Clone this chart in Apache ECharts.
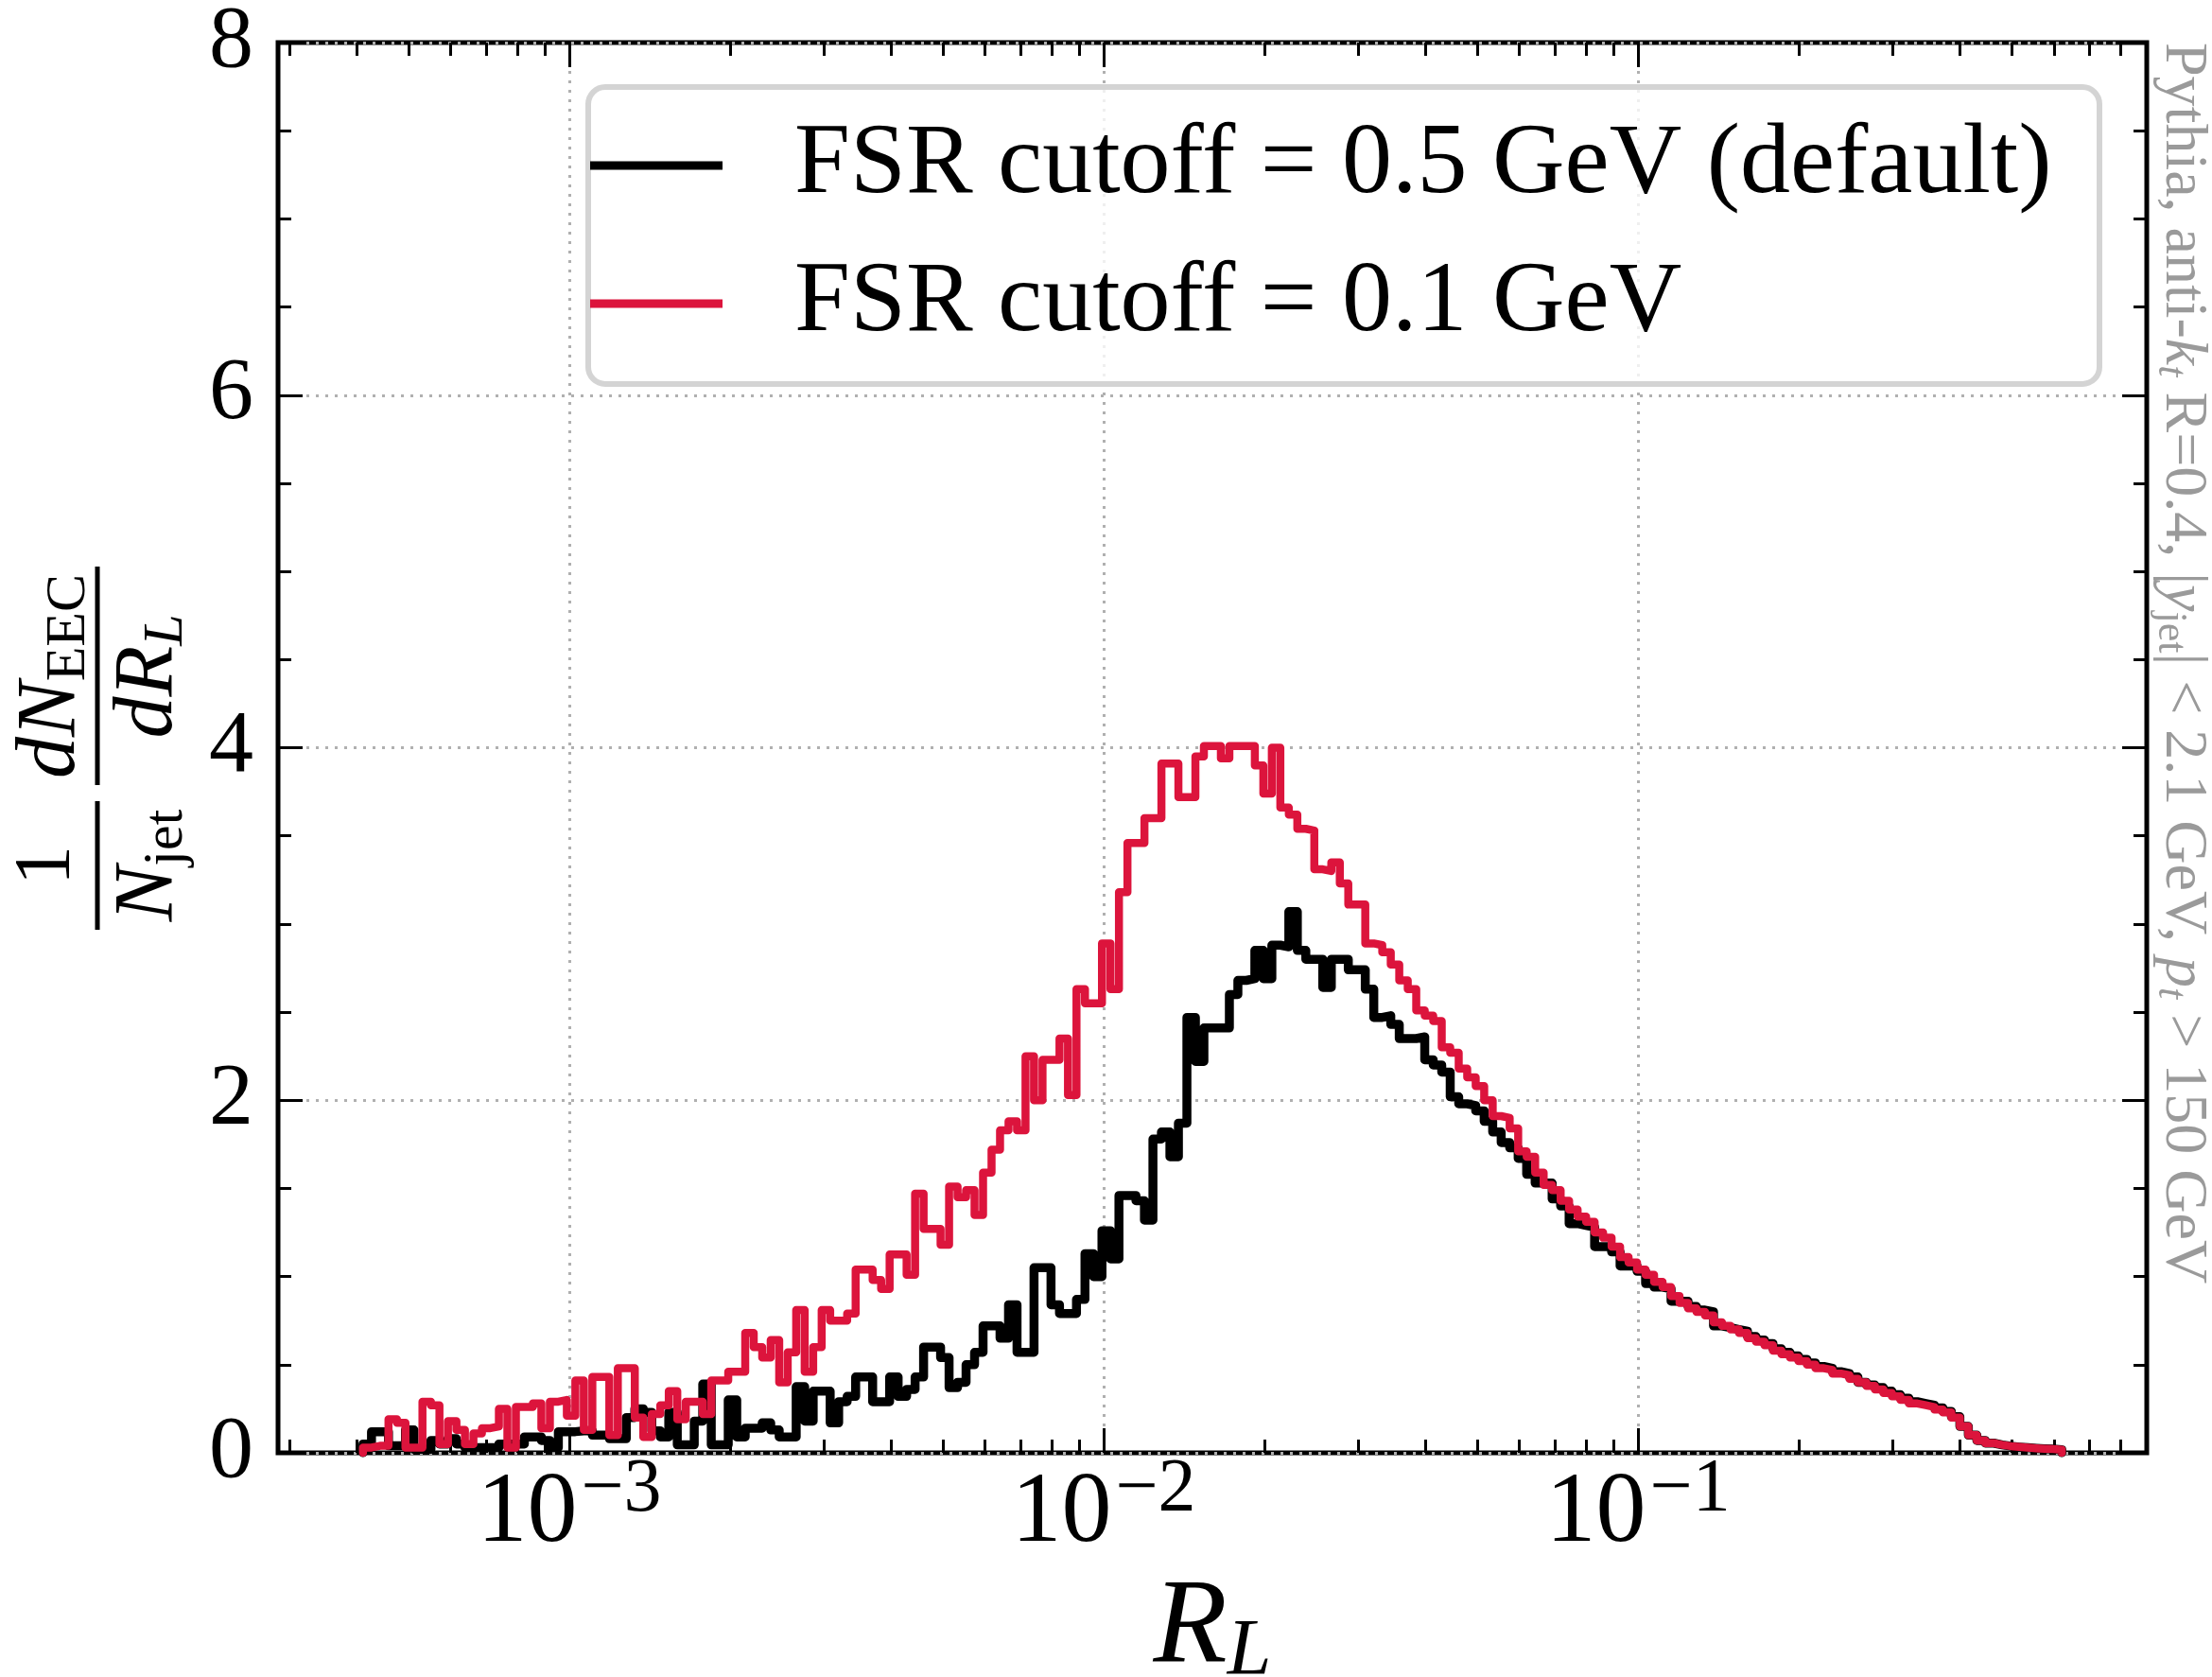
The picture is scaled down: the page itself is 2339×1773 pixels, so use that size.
<!DOCTYPE html>
<html><head><meta charset="utf-8">
<script src="https://cdn.jsdelivr.net/npm/echarts@6/dist/echarts.min.js"></script>
<style>html,body{margin:0;padding:0;background:#fff}#c{width:2339px;height:1773px}</style>
</head><body><div id="c"></div>
<script>
// ---------------- data ----------------
const seriesNames = ['FSR cutoff = 0.5 GeV (default)', 'FSR cutoff = 0.1 GeV'];
// histogram binning: log10 of first and last bin edge, 200 log-spaced bins
const binLog10Range = [-3.386, -0.207];
// x-axis range (log10)
const xLog10Range = [-3.545, -0.048];
const xMajorTicks = [1e-3, 1e-2, 1e-1];
const xMinorTicks = [3e-4,4e-4,5e-4,6e-4,7e-4,8e-4,9e-4,
  2e-3,3e-3,4e-3,5e-3,6e-3,7e-3,8e-3,9e-3,
  2e-2,3e-2,4e-2,5e-2,6e-2,7e-2,8e-2,9e-2,
  2e-1,3e-1,4e-1,5e-1,6e-1,7e-1,8e-1];
const yTicks = [0, 2, 4, 6, 8];

const fsr05 = [
  0.05,0.12,0.12,0.04,0.04,0.13,0.02,0.02,0.07,0.05,0.08,0.05,0.03,0.03,0.03,0.03,0.05,0.05,0.05,0.09,
  0.09,0.07,0.03,0.12,0.12,0.125,0.125,0.10,0.10,0.08,0.08,0.20,0.25,0.23,0.125,
  0.09,0.23,0.045,0.045,0.18,0.39,0.045,0.045,0.30,0.09,0.14,0.14,0.17,0.13,0.09,0.09,0.375,0.18,0.35,0.35,
  0.17,0.29,0.32,0.43,0.43,0.29,0.29,0.43,0.32,0.36,0.43,0.60,0.60,0.54,0.37,
  0.40,0.50,0.57,0.72,0.72,0.65,0.84,0.57,0.57,1.05,1.05,0.84,0.79,0.79,0.87,1.13,1.0,1.26,1.10,1.46,
  1.46,1.43,1.32,1.78,1.82,1.68,1.87,2.47,2.22,2.41,2.41,2.41,2.60,2.68,2.69,2.85,2.69,2.88,2.87,
  3.07,2.85,2.80,2.80,2.64,2.80,2.80,2.74,2.74,2.63,2.47,2.48,2.43,2.35,2.35,2.36,2.23,2.20,2.16,2.02,
  1.98,1.97,1.94,1.88,1.82,1.76,1.73,1.67,1.58,1.53,1.53,1.44,1.40,
  1.30,1.29,1.28,1.17,1.17,1.14,1.06,1.06,1.03,0.96,0.94,0.93,0.86,0.86,0.83,0.81,0.80,0.72,0.71,0.70,
  0.69,0.66,0.64,0.62,0.59,0.57,0.55,0.53,0.51,0.49,0.48,0.46,0.45,0.43,0.40,
  0.385,0.37,0.35,0.33,0.31,0.29,0.28,0.27,0.255,0.235,0.205,0.15,0.10,0.07,0.055,0.045,0.038,0.033,0.029,0.026,
  0.023,0.021,0.018
];
const fsr01 = [
  0.03,0.04,0.04,0.19,0.17,0.03,0.03,0.29,0.27,0.05,0.18,0.13,0.05,0.11,0.14,0.15,0.25,0.03,0.26,0.26,
  0.28,0.14,0.29,0.30,0.21,0.41,0.13,0.43,0.43,0.10,0.48,0.48,0.20,0.09,0.22,
  0.27,0.35,0.19,0.29,0.29,0.22,0.41,0.41,0.46,0.46,0.68,0.60,0.54,0.64,0.40,0.57,0.81,0.46,0.60,0.81,
  0.75,0.75,0.79,1.04,1.04,0.98,0.93,1.125,1.125,1.01,1.47,1.27,1.27,1.18,1.51,
  1.45,1.49,1.35,1.59,1.72,1.83,1.88,1.83,2.25,2.0,2.23,2.23,2.35,2.03,2.63,2.55,2.55,2.89,2.63,3.18,
  3.46,3.46,3.6,3.6,3.91,3.91,3.72,3.72,3.95,4.01,4.01,3.94,4.01,4.01,4.01,3.9,3.74,4.0,3.66,
  3.62,3.54,3.53,3.31,3.30,3.35,3.23,3.11,3.11,2.89,2.88,2.84,2.77,2.68,2.63,2.51,2.48,2.45,2.30,2.27,
  2.18,2.13,2.08,2.00,1.91,1.90,1.84,1.71,1.68,1.59,1.52,1.49,1.43,
  1.38,1.34,1.31,1.25,1.22,1.17,1.11,1.08,1.04,1.01,0.97,0.94,0.89,0.85,0.82,0.80,0.78,0.74,0.72,0.70,
  0.68,0.65,0.63,0.61,0.58,0.56,0.54,0.52,0.50,0.48,0.47,0.45,0.44,0.42,0.40,
  0.38,0.36,0.34,0.32,0.30,0.28,0.27,0.26,0.245,0.23,0.20,0.15,0.10,0.07,0.055,0.045,0.038,0.033,0.029,0.026,
  0.023,0.021,0.018
];

// ---------------- build ----------------
const N = fsr05.length;
const edges = [];
for (let i = 0; i <= N; i++) edges.push(Math.pow(10, binLog10Range[0] + (binLog10Range[1] - binLog10Range[0]) * i / N));
function stepPoints(vals) {
  const pts = [[edges[0], 0]];
  vals.forEach((v, i) => { pts.push([edges[i], v]); pts.push([edges[i + 1], v]); });
  pts.push([edges[vals.length], 0]);
  return pts;
}
const FONT = '"Liberation Serif", "DejaVu Serif", serif';
const xMin = Math.pow(10, xLog10Range[0]), xMax = Math.pow(10, xLog10Range[1]);
const tickStyle = { color: '#000', width: 3 };

function xAxisCfg(pos, major) {
  return {
    type: 'log', logBase: 10, min: xMin, max: xMax, position: pos, gridIndex: 0,
    axisLine: { show: false, onZero: false },
    axisTick: { show: true, inside: true, length: major ? 26 : 14, lineStyle: tickStyle,
      customValues: major ? xMajorTicks : xMinorTicks },
    axisLabel: (major && pos === 'bottom') ? {
      show: true, customValues: xMajorTicks, margin: 0,
      formatter: v => '{b|10}{s|−' + Math.round(-Math.log10(v)) + '}',
      rich: {
        b: { fontFamily: FONT, fontSize: 106, lineHeight: 118, color: '#000', verticalAlign: 'bottom' },
        s: { fontFamily: FONT, fontSize: 80, lineHeight: 76, color: '#000', verticalAlign: 'top', padding: [0, 0, 0, 4] }
      }
    } : { show: false },
    splitLine: { show: major && pos === 'bottom',
      lineStyle: { color: '#b0b0b0', width: 3, type: [3, 7] } },
    minorTick: { show: false }, minorSplitLine: { show: false }
  };
}
function yAxisCfg(pos) {
  return {
    type: 'value', min: 0, max: 8, interval: 2, position: pos, gridIndex: 0,
    axisLine: { show: false, onZero: false },
    axisTick: { show: true, inside: true, length: 26, lineStyle: tickStyle },
    minorTick: { show: true, splitNumber: 4, length: 14, lineStyle: tickStyle },
    axisLabel: pos === 'left' ? {
      show: true, margin: 26, fontFamily: FONT, fontSize: 94, color: '#000',
      customValues: yTicks
    } : { show: false },
    splitLine: { show: pos === 'left', lineStyle: { color: '#b0b0b0', width: 3, type: [3, 7] } }
  };
}

const chart = echarts.init(document.getElementById('c'), null, { renderer: 'canvas' });
const xA = [xAxisCfg('bottom', true), xAxisCfg('bottom', false), xAxisCfg('top', true), xAxisCfg('top', false)];
xA[0].name = '{i|R}{s|L}';
xA[0].nameLocation = 'middle';
xA[0].nameGap = 118;
xA[0].nameTextStyle = { rich: {
  i: { fontFamily: FONT, fontStyle: 'italic', fontSize: 128, lineHeight: 134, color: '#000' },
  s: { fontFamily: FONT, fontStyle: 'italic', fontSize: 84, lineHeight: 84, color: '#000', verticalAlign: 'bottom' }
} };

const subRich = (size, subSize, color) => ({
  i: { fontFamily: FONT, fontStyle: 'italic', fontSize: size, lineHeight: size * 1.1, fill: color },
  r: { fontFamily: FONT, fontSize: size, lineHeight: size * 1.1, fill: color },
  s: { fontFamily: FONT, fontSize: subSize, lineHeight: subSize, fill: color, verticalAlign: 'bottom' },
  si: { fontFamily: FONT, fontStyle: 'italic', fontSize: subSize, lineHeight: subSize, fill: color, verticalAlign: 'bottom' }
});

chart.setOption({
  animation: false,
  backgroundColor: '#fff',
  grid: { left: 294, top: 45, right: 69, bottom: 237, show: true, borderColor: '#000', borderWidth: 5,
          backgroundColor: 'transparent', containLabel: false, outerBoundsMode: 'none' },
  xAxis: xA,
  yAxis: [yAxisCfg('left'), yAxisCfg('right')],
  legend: {
    orient: 'vertical', left: 624, top: 116, padding: 0, itemWidth: 140, itemHeight: 9, itemGap: 28,
    icon: 'rect', data: seriesNames, z: 10,
    textStyle: { fontFamily: FONT, fontSize: 106, lineHeight: 118, color: '#000', padding: [0, 0, 0, 71] }
  },
  graphic: [
    { type: 'rect', z: 5, shape: { x: 622, y: 92, width: 1598, height: 314, r: 18 },
      style: { fill: 'rgba(255,255,255,0.8)', stroke: '#d4d4d4', lineWidth: 6 } },
    { type: 'group', x: 103, y: 983, rotation: Math.PI / 2, children: [
      { type: 'line', shape: { x1: 0, y1: 0, x2: 136, y2: 0 }, style: { stroke: '#000', lineWidth: 5 } },
      { type: 'line', shape: { x1: 153, y1: 0, x2: 384, y2: 0 }, style: { stroke: '#000', lineWidth: 5 } },
      { type: 'text', x: 68, y: -6, style: { text: '{r|1}', rich: subRich(84, 58, '#000'), align: 'center', verticalAlign: 'bottom' } },
      { type: 'text', x: 68, y: 6, style: { text: '{i|N}{s|jet}', rich: subRich(88, 60, '#000'), align: 'center', verticalAlign: 'top' } },
      { type: 'text', x: 268, y: 0, style: { text: '{i|dN}{s|EEC}', rich: subRich(88, 60, '#000'), align: 'center', verticalAlign: 'bottom' } },
      { type: 'text', x: 268, y: 6, style: { text: '{i|dR}{si|L}', rich: subRich(88, 60, '#000'), align: 'center', verticalAlign: 'top' } }
    ] },
    { type: 'text', x: 2308, y: 45, rotation: -Math.PI / 2,
      style: { text: '{r|Pythia, anti-}{i|k}{si|t}{r| R=0.4, |}{i|y}{s|jet}{r|| < 2.1 GeV, }{i|p}{si|t}{r| > 150 GeV}',
        rich: subRich(64, 44, '#9a9a9a'), align: 'left', verticalAlign: 'middle' } }
  ],
  series: [
    { name: seriesNames[0], type: 'line', xAxisIndex: 0, yAxisIndex: 0, data: stepPoints(fsr05),
      showSymbol: false, symbol: 'none', color: '#000', z: 3,
      lineStyle: { color: '#000', width: 9.5, cap: 'round', join: 'round' }, itemStyle: { color: '#000' } },
    { name: seriesNames[1], type: 'line', xAxisIndex: 0, yAxisIndex: 0, data: stepPoints(fsr01),
      showSymbol: false, symbol: 'none', color: '#dc143c', z: 4,
      lineStyle: { color: '#dc143c', width: 8.5, cap: 'round', join: 'round' }, itemStyle: { color: '#dc143c' } }
  ]
});
</script></body></html>
